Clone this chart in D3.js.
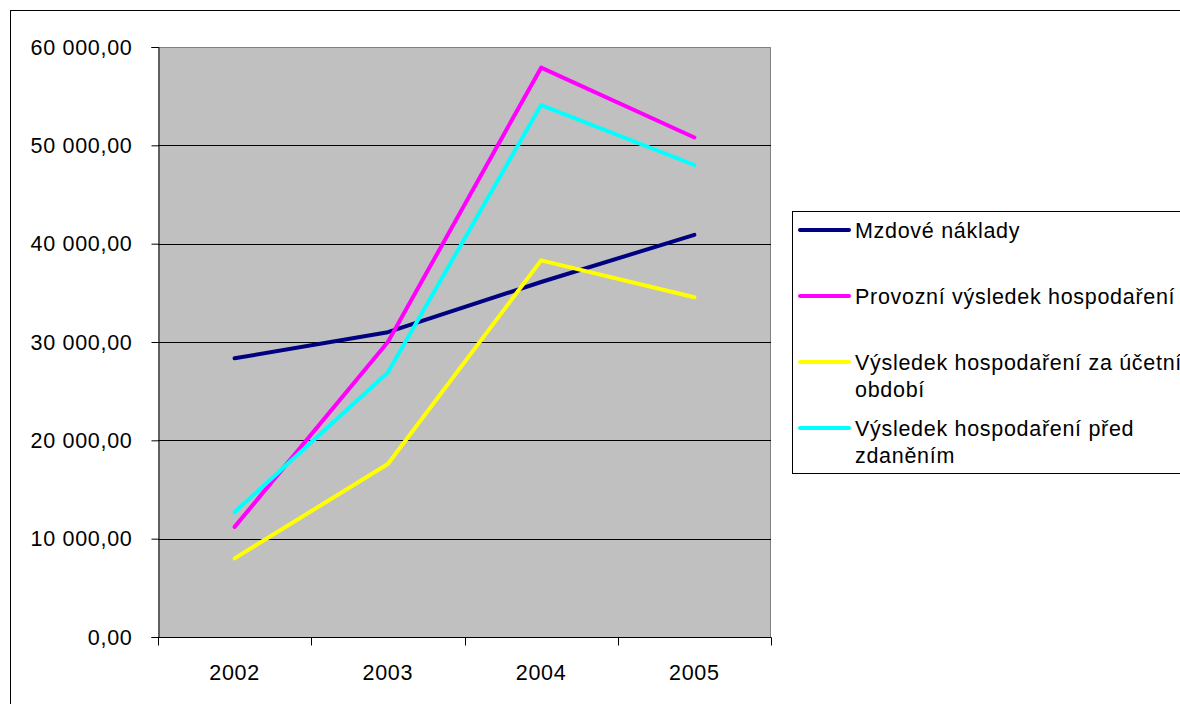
<!DOCTYPE html>
<html>
<head>
<meta charset="utf-8">
<script src="https://cdn.jsdelivr.net/npm/d3@7"></script>
<style>
  html, body { margin: 0; padding: 0; background: #fff; }
  svg { display: block; font-family: "Liberation Sans", Arial, sans-serif; }
  svg text { font-size: 21.5px; letter-spacing: 0.7px; fill: #000; }
</style>
</head>
<body>
<svg id="chart" width="1180" height="704"></svg>
<script>
// Years on the category axis
const years = ["2002", "2003", "2004", "2005"];

// Series values (thousands CZK)
const mzdoveNaklady = [28340, 31000, 36100, 40900];
const provozniVysledek = [11200, 30000, 57900, 50800];
const vysledekUcetni = [8000, 17600, 38300, 34550];
const vysledekPredZdanenim = [12700, 26900, 54100, 48000];

// Value axis ticks
const yTicks = [0, 10000, 20000, 30000, 40000, 50000, 60000];

const seriesNames = [
  ["Mzdové náklady"],
  ["Provozní výsledek hospodaření"],
  ["Výsledek hospodaření za účetní", "období"],
  ["Výsledek hospodaření před", "zdaněním"]
];
const seriesColors = ["#000080", "#ff00ff", "#ffff00", "#00ffff"];
const seriesData = [mzdoveNaklady, provozniVysledek, vysledekUcetni, vysledekPredZdanenim];

const svg = d3.select("#chart");

// outer chart frame
svg.append("rect")
  .attr("x", 10.5).attr("y", 10.5)
  .attr("width", 1200).attr("height", 720)
  .attr("fill", "#fff").attr("stroke", "#000").attr("stroke-width", 1);

const plot = { left: 158, right: 771, top: 47, bottom: 637 };

const x = d3.scaleBand().domain(years).range([plot.left, plot.right]).paddingInner(0).paddingOuter(0);
const y = d3.scaleLinear().domain([0, 60000]).range([plot.bottom, plot.top]);

// plot background
svg.append("rect")
  .attr("x", plot.left).attr("y", plot.top)
  .attr("width", plot.right - plot.left).attr("height", plot.bottom - plot.top)
  .attr("fill", "#c0c0c0");

// plot border (top/right in grey)
svg.append("path")
  .attr("d", `M${plot.left},${plot.top + 0.5}H${plot.right - 0.5}V${plot.bottom}`)
  .attr("fill", "none").attr("stroke", "#808080").attr("stroke-width", 1);

// horizontal gridlines
svg.append("g")
  .selectAll("line")
  .data(yTicks.filter(d => d > 0 && d < 60000))
  .join("line")
  .attr("x1", plot.left).attr("x2", plot.right)
  .attr("y1", d => Math.round(y(d)) + 0.5).attr("y2", d => Math.round(y(d)) + 0.5)
  .attr("stroke", "#000").attr("stroke-width", 1);

const fmt = v => {
  const s = d3.format(",.2f")(v);
  return s.replace(/,/g, " ").replace(".", ",");
};

// value axis
const yAxis = svg.append("g")
  .attr("transform", `translate(${plot.left + 0.5},0)`)
  .call(d3.axisLeft(y).tickValues(yTicks).tickFormat(fmt).tickSize(7).tickPadding(19));
yAxis.attr("font-size", null).attr("font-family", null);
yAxis.select(".domain").attr("stroke", "#000");
yAxis.selectAll(".tick line").attr("stroke", "#000");
yAxis.selectAll("text").attr("fill", "#000").attr("dy", "0.34em");

// category axis: ticks at category boundaries, labels centred
const catAxis = svg.append("g").attr("transform", `translate(0,${plot.bottom + 0.5})`);
catAxis.append("line")
  .attr("x1", plot.left).attr("x2", plot.right + 0.5)
  .attr("stroke", "#000");
const bounds = years.map(d => x(d)).concat([x(years[years.length - 1]) + x.bandwidth()]);
catAxis.selectAll("line.tk").data(bounds).join("line")
  .attr("class", "tk")
  .attr("x1", d => Math.round(d) + 0.5).attr("x2", d => Math.round(d) + 0.5)
  .attr("y1", 0).attr("y2", 8).attr("stroke", "#000");
catAxis.selectAll("text").data(years).join("text")
  .attr("x", d => x(d) + x.bandwidth() / 2)
  .attr("y", 42)
  .attr("text-anchor", "middle")
  .text(d => d);

// series lines
const line = d3.line()
  .x((d, i) => x(years[i]) + x.bandwidth() / 2)
  .y(d => y(d));

svg.append("g")
  .selectAll("path")
  .data(seriesData)
  .join("path")
  .attr("d", d => line(d))
  .attr("fill", "none")
  .attr("stroke", (d, i) => seriesColors[i])
  .attr("stroke-width", 4)
  .attr("stroke-linejoin", "round")
  .attr("stroke-linecap", "round");

// legend
const legend = svg.append("g");
legend.append("rect")
  .attr("x", 792.5).attr("y", 211.5)
  .attr("width", 420).attr("height", 262)
  .attr("fill", "#fff").attr("stroke", "#000").attr("stroke-width", 1);

const rowY = [230, 296, 362, 428];
seriesNames.forEach((lines, i) => {
  legend.append("line")
    .attr("x1", 800).attr("x2", 849)
    .attr("y1", rowY[i]).attr("y2", rowY[i])
    .attr("stroke", seriesColors[i]).attr("stroke-width", 4)
    .attr("stroke-linecap", "round");
  lines.forEach((t, j) => {
    legend.append("text")
      .attr("x", 855)
      .attr("y", rowY[i] + 7.5 + j * 27.5)
      .text(t);
  });
});
</script>
</body>
</html>
